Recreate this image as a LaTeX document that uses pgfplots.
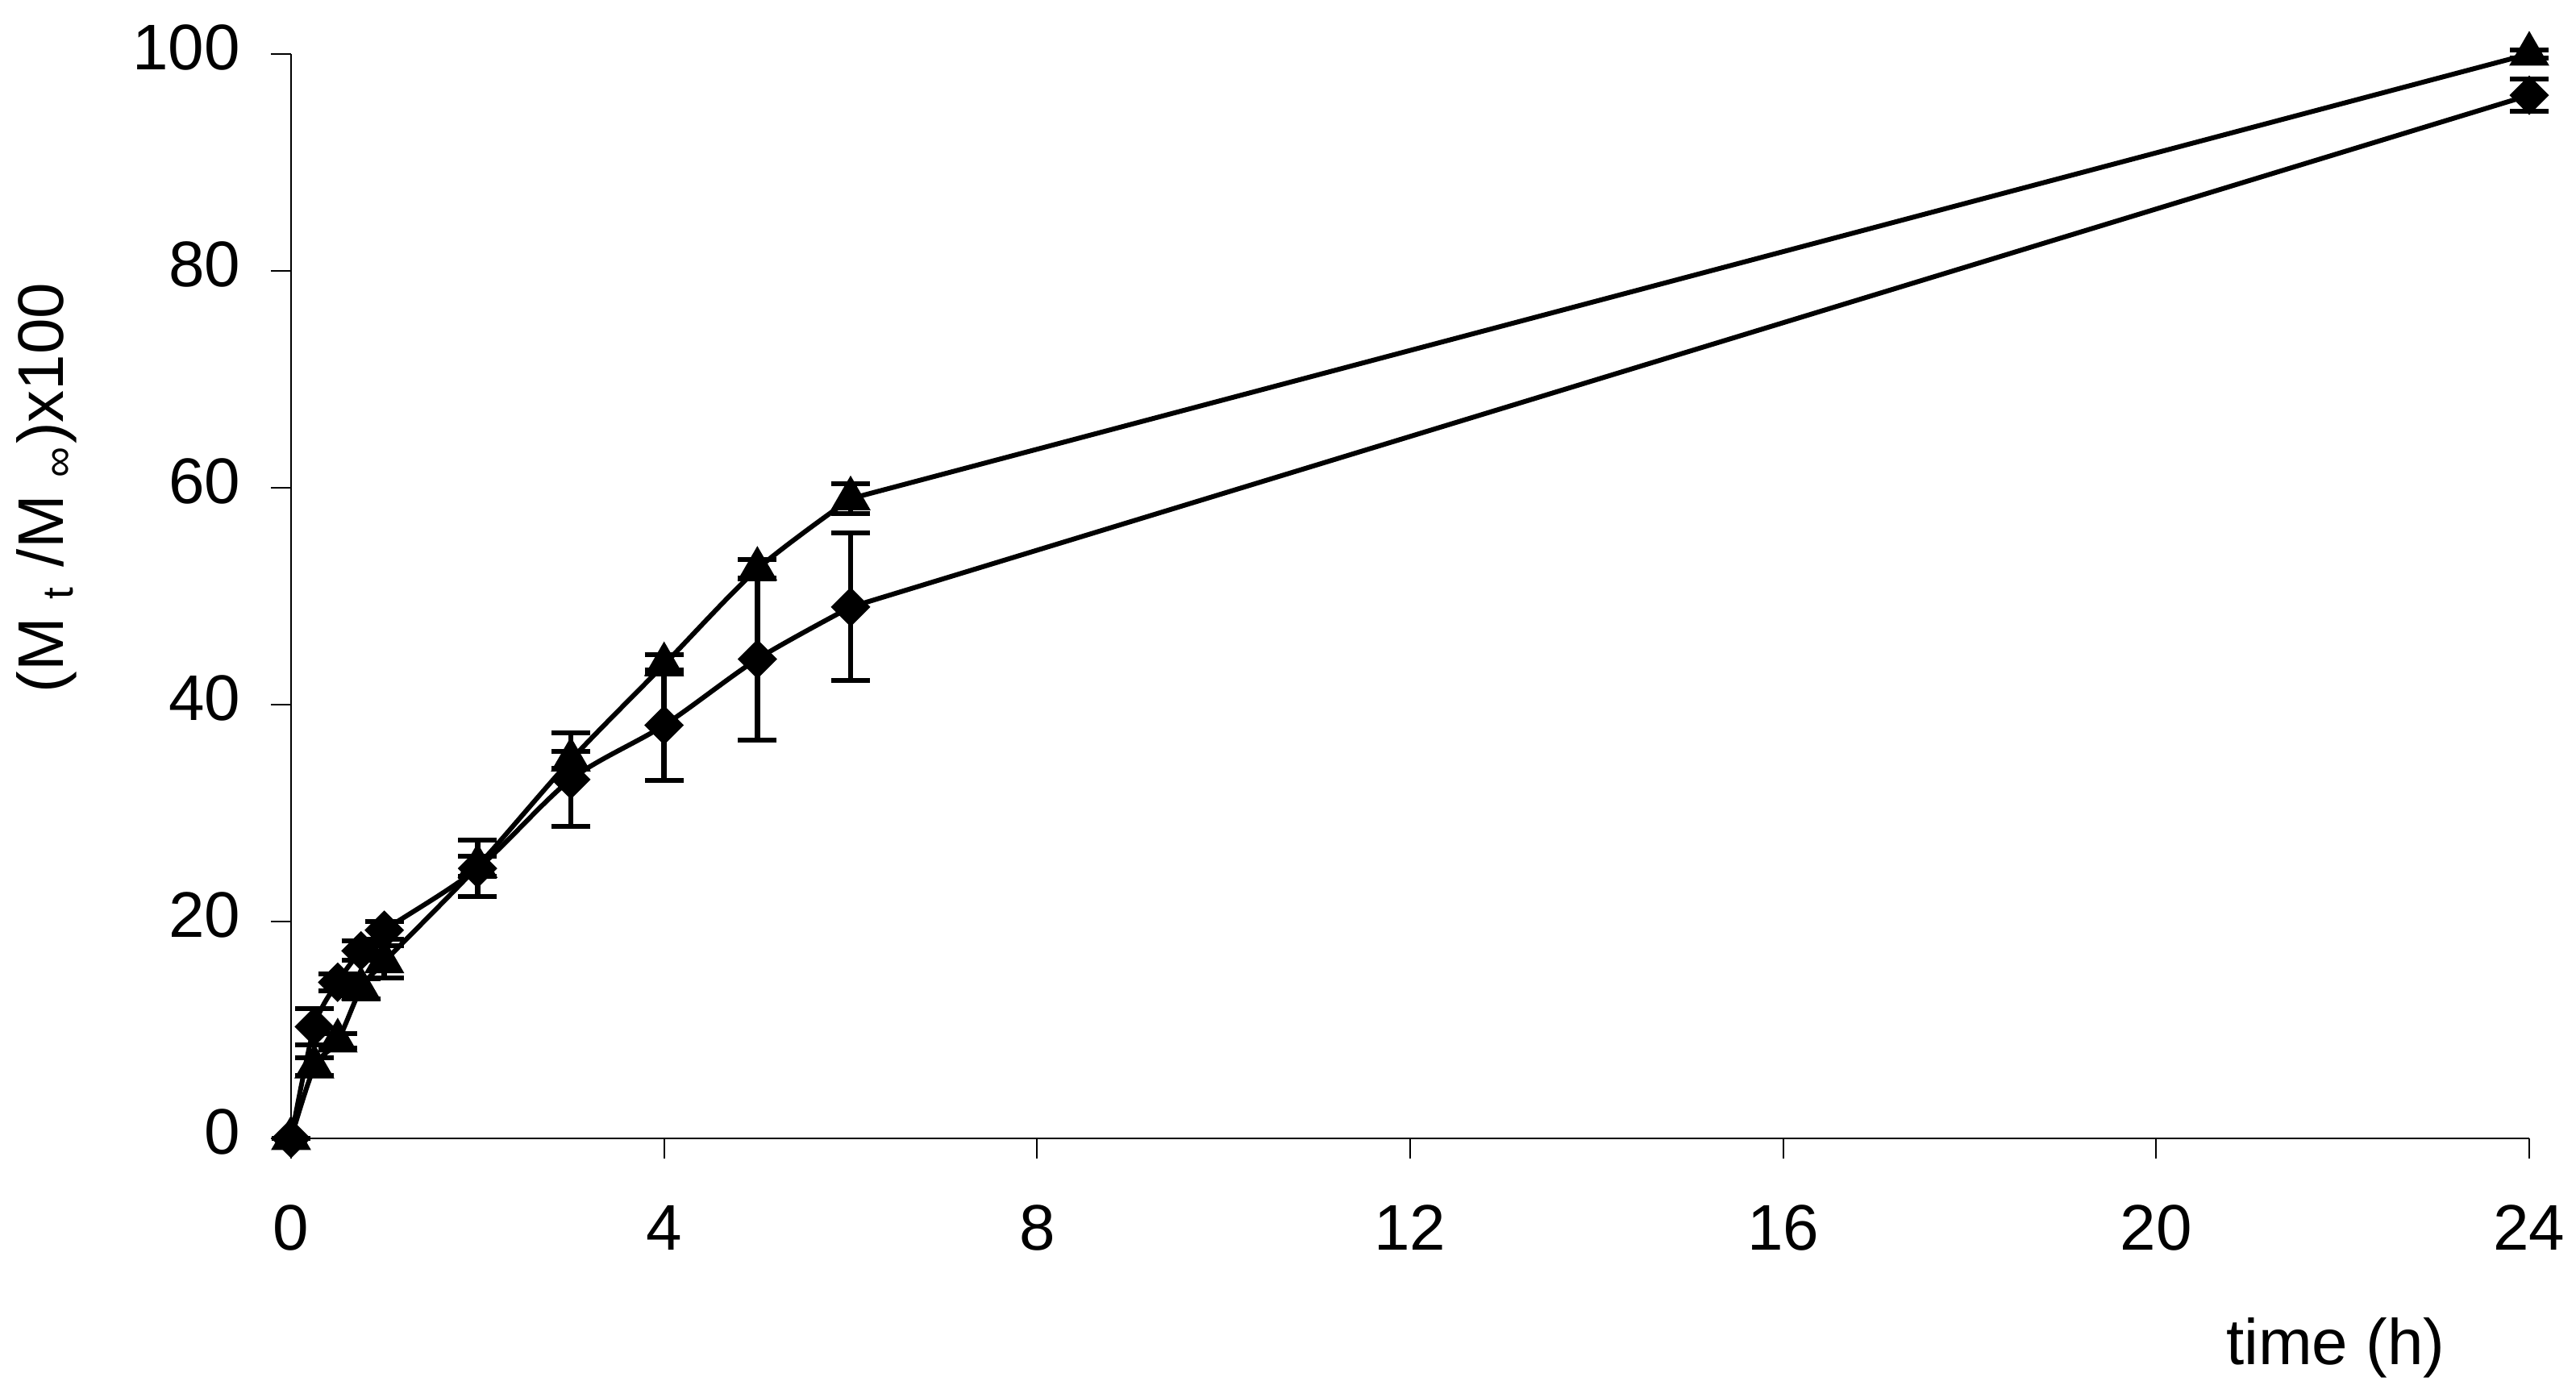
\documentclass[border=0pt]{standalone}
\usepackage{fontspec}
\setmainfont{Liberation Sans}
\usepackage{pgfplots}
\usepackage{pgfplotstable}
\pgfplotsset{compat=1.18}

% release data: time (h), mean, sd
\pgfplotstableread{
t     m      e
0     0      0
0.25  6.6    0.8
0.5   9.0    0.7
0.75  13.8   0.9
1     16.3   1.5
2     25.1   0.9
3     34.9   0.8
4     43.7   0.9
5     52.5   0.9
6     59.0   1.4
24    100.0  0.4
}\tri
\pgfplotstableread{
t     m      e
0     0      0
0.25  10.3   1.7
0.5   14.4   0.8
0.75  17.3   0.9
1     19.2   0.8
2     24.9   2.6
3     33.1   4.3
4     38.1   5.1
5     44.2   7.5
6     49.0   6.8
24    96.2   1.5
}\dia

\pgfplotsset{
  curve/.style={black, line width=0.9pt, no markers},
  pts/.style={black, only marks,
    error bars/y dir=both, error bars/y explicit,
    error bars/error mark=-,
    error bars/error mark options={rotate=90, black, line width=0.9pt, mark size=3.6pt},
    error bars/error bar style={black, line width=1pt}},
}

\begin{document}
\begin{tikzpicture}[font=\fontsize{12}{14.4}\selectfont]
\path[use as bounding box] (-54.15pt,-48.15pt) rectangle (425.1pt,211.8pt);
\begin{axis}[
    at={(0pt,0pt)}, anchor=south west,
    scale only axis, width=416.4pt, height=201.75pt,
    xmin=0, xmax=24, ymin=0, ymax=100,
    axis lines*=left,
    axis line style={line width=0.3pt},
    xtick={0,4,...,24}, ytick={0,20,...,100},
    tick align=outside, major tick length=3.75pt,
    tick style={line width=0.3pt, black},
    /pgf/number format/assume math mode=true,
    xticklabel style={inner sep=0pt, anchor=north, yshift=-8.5pt},
    yticklabel style={inner sep=0pt, anchor=east, xshift=-5.5pt, yshift=1.2pt},
    clip=false,
    xlabel={time (h)},
    ylabel={(M \textsubscript{t} /M \textsubscript{∞})x100},
    xlabel style={at={(axis description cs:0.9135,-0.2082)}, anchor=base},
    ylabel style={at={(axis description cs:-0.1019,0.8067)}, anchor=base east},
]
% lines: smooth over the first 6 h, straight to 24 h
\addplot[curve, smooth] table[x=t, y=m, restrict x to domain=0:6] {\tri};
\addplot[curve] table[x=t, y=m, restrict x to domain=6:24] {\tri};
\addplot[curve, smooth] table[x=t, y=m, restrict x to domain=0:6] {\dia};
\addplot[curve] table[x=t, y=m, restrict x to domain=6:24] {\dia};
% markers with error bars
\addplot[pts, mark=triangle*, mark size=3.9pt, mark options={fill=black}]
    table[x=t, y=m, y error=e] {\tri};
\addplot[pts, mark=square*, mark size=2.4pt, mark options={fill=black, rotate=45}]
    table[x=t, y=m, y error=e] {\dia};
\end{axis}
\end{tikzpicture}
\end{document}
